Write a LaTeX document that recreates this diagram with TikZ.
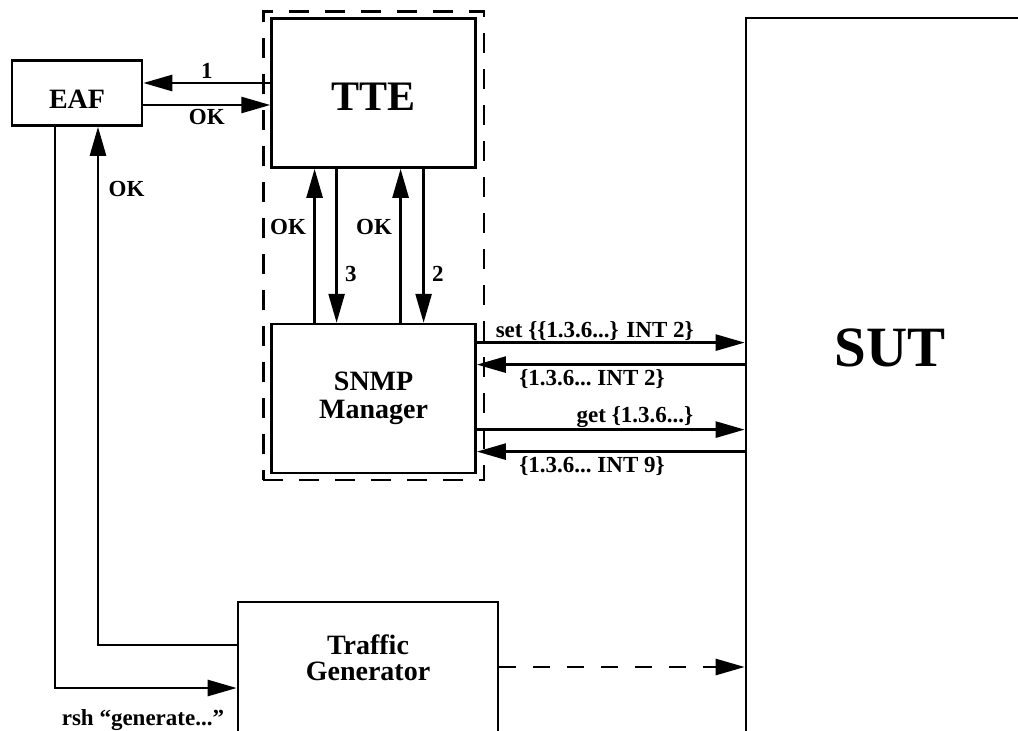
\documentclass[tikz,border=0pt]{standalone}
\usepackage{fontspec}
\setmainfont{Liberation Serif}
\usepackage{tikz}
\usetikzlibrary{arrows.meta,positioning,fit}
\newcommand{\lblsize}{\fontsize{23}{25}\selectfont\bfseries}
\tikzset{
    unitbox/.style={
        draw,
        align=center,
        font=\fontsize{28}{28}\selectfont\bfseries,
        inner sep=0pt
    },
    msg/.style={
        -{Triangle[length=29pt,width=16pt]}
    },
    msgdash/.style={
        -{Triangle[length=29pt,width=16pt]},
        dash pattern=on 17pt off 17pt
    },
    lbl/.style={
        font=\lblsize
    }
}

\begin{document}
\begin{tikzpicture}[x=1pt, y=-1pt, line width=2.6pt]
    \useasboundingbox (0,0) rectangle (1018,731);
    \clip (0,0) rectangle (1018,731);

    \node[unitbox, minimum width=130pt, minimum height=65pt, text height=31pt] (eaf) at (77,93) {EAF};

    \node[unitbox, minimum width=204pt, minimum height=149pt,
          font=\fontsize{42}{42}\selectfont\bfseries, text height=34pt,
          right=127pt of eaf] (tte) {TTE};

    \node[unitbox, minimum width=204pt, minimum height=149pt, below=154pt of tte] (snmp) {SNMP\\Manager};

    \node[draw, dash pattern=on 20pt off 16pt, inner xsep=7pt, inner ysep=5.5pt, fit=(tte)(snmp)] (tester) {};

    \node[unitbox, minimum width=260pt, minimum height=150pt,
          font=\fontsize{28}{26}\selectfont\bfseries, text depth=38pt] (tg) at (368,677) {Traffic\\Generator};

    \node[unitbox, minimum width=288pt, minimum height=780pt,
          font=\fontsize{57}{57}\selectfont\bfseries, text depth=120pt] (sut) at (890,408) {SUT};

    % EAF <-> TTE
    \draw[msg] ([yshift=10pt]tte.west) -- ([yshift=10pt]tte.west -| eaf.east) node[lbl, midway, above] {1};
    \draw[msg] ([yshift=-12pt]tte.west -| eaf.east) -- ([yshift=-12pt]tte.west) node[lbl, midway, below] {OK};

    % TTE <-> SNMP Manager
    \draw[msg] ([xshift=-59pt]snmp.north) -- ([xshift=-59pt]tte.south) node[lbl, pos=.62, left=4pt] {OK};
    \draw[msg] ([xshift=-37pt]tte.south) -- ([xshift=-37pt]snmp.north) node[lbl, pos=.68, right=4pt] {3};
    \draw[msg] ([xshift=27pt]snmp.north) -- ([xshift=27pt]tte.south) node[lbl, pos=.62, left=4pt] {OK};
    \draw[msg] ([xshift=50pt]tte.south) -- ([xshift=50pt]snmp.north) node[lbl, pos=.68, right=4pt] {2};

    % SNMP Manager <-> SUT
    \draw[msg] ([yshift=56pt]snmp.east) -- ([yshift=56pt]snmp.east -| sut.west)
        node[lbl, pos=.44, above, inner sep=1pt] {set \{\{1.3.6...\} INT 2\}};
    \draw[msg] ([yshift=34pt]snmp.east -| sut.west) -- ([yshift=34pt]snmp.east)
        node[lbl, pos=.57, below] {\{1.3.6...\ INT 2\}};
    \draw[msg] ([yshift=-31pt]snmp.east) -- ([yshift=-31pt]snmp.east -| sut.west)
        node[lbl, pos=.59, above, inner sep=1pt] {get \{1.3.6...\}};
    \draw[msg] ([yshift=-53pt]snmp.east -| sut.west) -- ([yshift=-53pt]snmp.east)
        node[lbl, pos=.57, below] {\{1.3.6...\ INT 9\}};

    % traffic generator
    \draw[msgdash] ([yshift=10pt]tg.east) -- ([yshift=10pt]tg.east -| sut.west);
    \draw[msg] ([xshift=-22pt]eaf.south) |- ([yshift=-11pt]tg.west)
        node[lbl, pos=1, below left=17pt and 8pt] {rsh “generate...”};
    \draw[msg] ([yshift=32pt]tg.west) -| ([xshift=21pt]eaf.south)
        node[lbl, pos=.94, right=6pt] {OK};
\end{tikzpicture}
\end{document}
